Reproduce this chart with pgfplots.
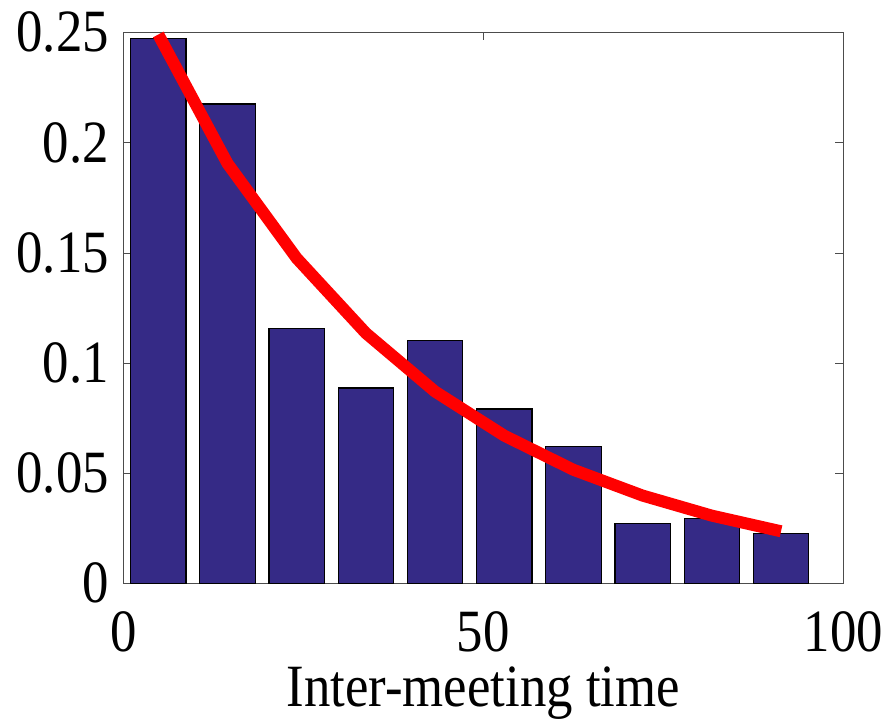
\documentclass[border=0pt]{standalone}
\usepackage{fontspec}
\setmainfont[FakeStretch=0.88]{Liberation Serif}
\usepackage{pgfplots}
\pgfplotsset{compat=1.18}
\definecolor{barblue}{RGB}{53,42,134}
\definecolor{fitred}{RGB}{255,0,0}
\begin{document}
\fontsize{30}{34}\selectfont
\begin{tikzpicture}
\begin{axis}[
  scale only axis,
  width=360pt, height=275.5pt,
  xmin=0, xmax=100, ymin=0, ymax=0.25,
  xtick={0,50,100}, ytick={0,0.05,0.1,0.15,0.2,0.25},
  tick align=inside, major tick length=4pt,
  axis line style={black!70}, tick style={black!70},
  tick label style={font=\fontsize{30}{34}\selectfont},
  /pgf/number format/assume math mode=true,
  yticklabel style={xshift=3pt, /pgf/number format/.cd, fixed, precision=2},
  xticklabel style={yshift=-4pt},
  xlabel={Inter-meeting time},
  xlabel style={font=\fontsize{30}{34}\selectfont, yshift=13pt},
  clip=false,
]
% histogram, 10 bins
\addplot[ybar, bar width=7.7, fill=barblue, draw=black, line width=0.6pt] coordinates {
  (4.86,0.2473) (14.47,0.2175) (24.08,0.1157) (33.69,0.0886) (43.30,0.1103)
  (52.91,0.0791) (62.52,0.0619) (72.13,0.0270) (81.74,0.0295) (91.35,0.0227)
};
% fitted curve
\addplot[fitred, line width=6pt] coordinates {
  (4.86,0.2490) (14.47,0.1905) (24.08,0.1475) (33.69,0.1135) (43.30,0.0870)
  (52.91,0.0670) (62.52,0.0515) (72.13,0.0398) (81.74,0.0307) (91.35,0.0236)
};
\end{axis}
\pgfresetboundingbox
\path (current axis.south west)+(-61.65pt,-67.85pt) rectangle +(382.85pt,291.65pt);
\end{tikzpicture}
\end{document}
